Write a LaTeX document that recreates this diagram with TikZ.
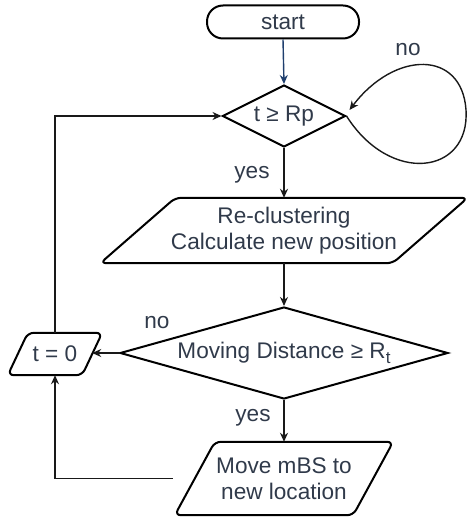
\documentclass[tikz,border=0pt]{standalone}
\usepackage{fontspec}
\setmainfont{Liberation Sans}
\usetikzlibrary{shapes.geometric,arrows.meta,calc}
\definecolor{txt}{RGB}{48,58,74}
\definecolor{navy}{RGB}{31,63,110}
\begin{document}
\begin{tikzpicture}[x=1pt,y=-1pt,
  every node/.style={font=\fontsize{22.6}{26.5}\selectfont, text=txt},
  shp/.style={draw=black, line width=2pt},
  arr/.style={draw=black!90, line width=1.4pt, -{Stealth[length=9pt,width=8pt]}},
  para/.style={draw=black, line width=2pt, rounded corners=6pt}]
\useasboundingbox (0,0) rectangle (468,518);

\node[shp, rounded corners=16pt, minimum width=152pt, minimum height=33pt, inner sep=0pt] (st) at (283,22) {start};
\node[shp, diamond, aspect=2, minimum width=123pt, minimum height=62pt, inner sep=0pt] (d1) at (284,116) {t ≥ Rp};

\node[minimum width=292pt, minimum height=65pt, inner sep=0pt, align=center] (p2) at (284,230.5) {Re-clustering\\Calculate new position};
\draw[para] ($(p2.north west)+(37.5,0)$) -- ($(p2.north east)+(37.5,0)$) -- ($(p2.south east)+(-37.5,0)$) -- ($(p2.south west)+(-37.5,0)$) -- cycle;

\node[shp, diamond, aspect=3.57, minimum width=328pt, minimum height=92pt, inner sep=0pt] (d2) at (284,353) {Moving Distance ≥ R\raisebox{-0.45ex}{\fontsize{17}{17}\selectfont t}};

\node[minimum width=74pt, minimum height=42pt, inner sep=0pt] (t0) at (55,354) {t = 0};
\draw[para] ($(t0.north west)+(10,0)$) -- ($(t0.north east)+(10,0)$) -- ($(t0.south east)+(-10,0)$) -- ($(t0.south west)+(-10,0)$) -- cycle;

\node[minimum width=178pt, minimum height=73pt, inner sep=0pt, align=center] (p3) at (284,478.5) {Move mBS to\\new location};
\draw[para] ($(p3.north west)+(20,0)$) -- ($(p3.north east)+(20,0)$) -- ($(p3.south east)+(-20,0)$) -- ($(p3.south west)+(-20,0)$) -- cycle;

\node (y1) at (252,175) {yes};
\node (n1) at (408,50) {no};
\node (y2) at (253,418) {yes};
\node (n2) at (157,323) {no};

\coordinate (lp) at ($(d1.east)+(3,-6)$);

\draw[arr, draw=navy] (st.south) -- (d1.north);
\draw[arr] (d1.south) -- (p2.north);
\draw[arr] (p2.south) -- (d2.north);
\draw[arr] (d2.south) -- (p3.north);
\draw[arr] (d2.west) -- (d2.west -| t0.east);
\draw[arr] (t0.north) |- (d1.west);
\draw[arr, shorten <=22pt] (p3.west) -| (t0.south);
\draw[arr] (d1.east) .. controls (390,185) and (470,175) .. (466,110) .. controls (462,50) and (395,50) .. (lp);
\end{tikzpicture}
\end{document}
